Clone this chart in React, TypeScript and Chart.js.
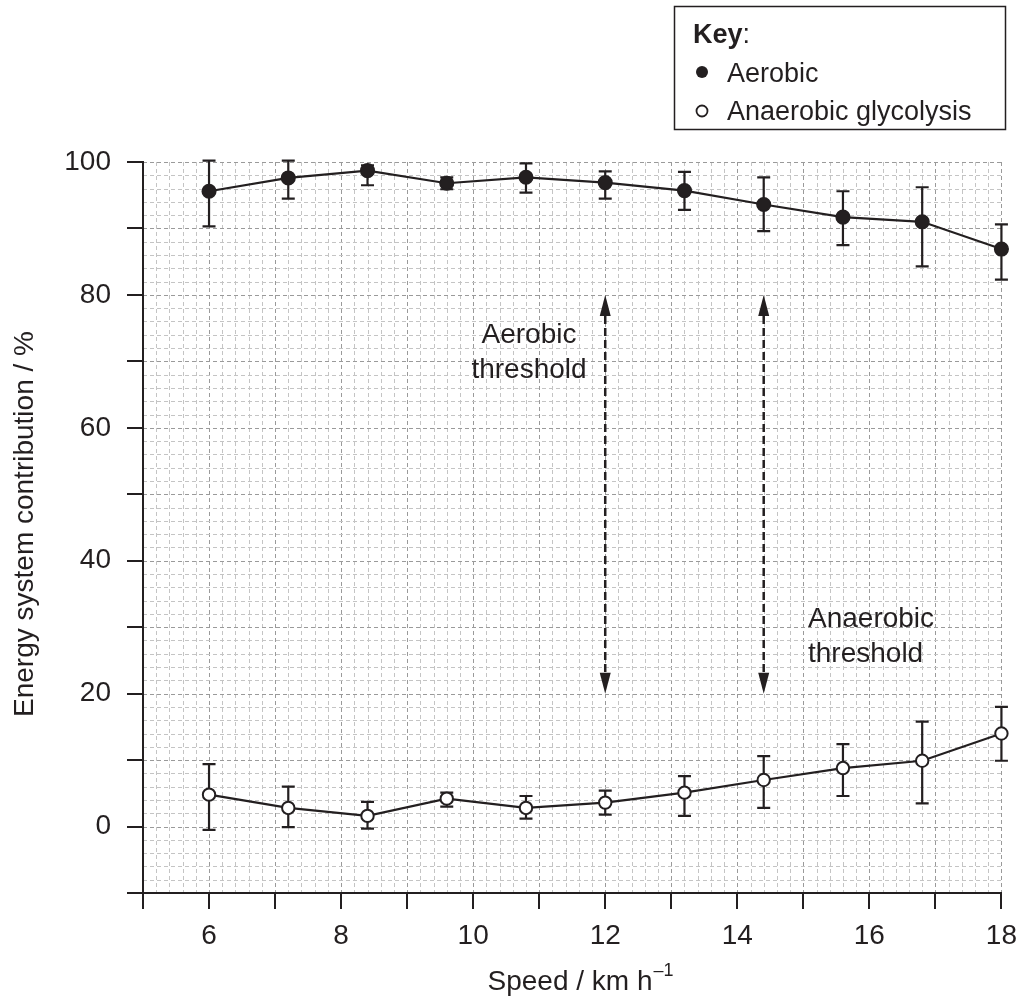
import { useEffect, useRef } from 'react';
import { Chart, registerables } from 'chart.js';

Chart.register(...registerables);

// ---------- data ----------
const speeds = [6, 7.2, 8.4, 9.6, 10.8, 12, 13.2, 14.4, 15.6, 16.8, 18];

const aerobic = [95.6, 97.6, 98.7, 96.8, 97.7, 96.9, 95.7, 93.6, 91.7, 91.0, 86.9];
const aerobicHigh = [100.2, 100.2, 99.5, 97.7, 99.8, 98.6, 98.5, 97.7, 95.6, 96.2, 90.6];
const aerobicLow = [90.3, 94.5, 96.5, 95.9, 95.4, 94.5, 92.8, 89.6, 87.5, 84.3, 82.3];

const anaerobic = [4.8, 2.8, 1.6, 4.2, 2.8, 3.6, 5.1, 7.0, 8.8, 9.9, 14.0];
const anaerobicHigh = [9.4, 6.0, 3.7, 5.1, 4.6, 5.4, 7.6, 10.6, 12.4, 15.8, 18.0];
const anaerobicLow = [-0.5, -0.1, -0.3, 3.0, 1.2, 1.8, 1.6, 2.8, 4.6, 3.5, 9.9];

const xTickLabels = [6, 8, 10, 12, 14, 16, 18];
const yTickLabels = [0, 20, 40, 60, 80, 100];

const thresholdSpeeds = [12, 14.4];
const arrowRange = [20, 80];

const seriesNames = ['Aerobic', 'Anaerobic glycolysis'];
const thresholdNames = [['Aerobic', 'threshold'], ['Anaerobic', 'threshold']];

const X_MIN = 5;
const X_MAX = 18;
const Y_MIN = -10;
const Y_MAX = 100;

// ---------- styles ----------
const FONT = "'Liberation Sans', Arial, Helvetica, sans-serif";
const INK = '#231f20';
const FS = 28;

const gridPlugin = {
  id: 'paperGrid',
  beforeDraw(chart: any) {
    const { ctx } = chart;
    const xs = chart.scales.x;
    const ys = chart.scales.y;
    const top = ys.getPixelForValue(Y_MAX);
    const bottom = ys.getPixelForValue(Y_MIN);
    const left = xs.getPixelForValue(X_MIN);
    const right = xs.getPixelForValue(X_MAX);
    ctx.save();
    ctx.lineWidth = 1;
    ctx.setLineDash([4, 3]);
    const nx = Math.round((X_MAX - X_MIN) / 0.2);
    for (let i = 1; i <= nx; i++) {
      const px = Math.round(xs.getPixelForValue(X_MIN + i * 0.2)) + 0.5;
      ctx.strokeStyle = i % 5 === 0 ? '#9a9a9a' : '#c4c4c4';
      ctx.beginPath();
      ctx.moveTo(px, top);
      ctx.lineTo(px, bottom);
      ctx.stroke();
    }
    const ny = Math.round((Y_MAX - Y_MIN) / 2);
    for (let j = 1; j <= ny; j++) {
      const v = Y_MIN + j * 2;
      const py = Math.round(ys.getPixelForValue(v)) + 0.5;
      ctx.strokeStyle = v % 10 === 0 ? '#9a9a9a' : '#c4c4c4';
      ctx.beginPath();
      ctx.moveTo(left, py);
      ctx.lineTo(right, py);
      ctx.stroke();
    }
    ctx.restore();
  },
};

const errorBarPlugin = {
  id: 'errorBars',
  beforeDatasetsDraw(chart: any) {
    const { ctx } = chart;
    const xs = chart.scales.x;
    const ys = chart.scales.y;
    const sets = [
      [aerobicHigh, aerobicLow],
      [anaerobicHigh, anaerobicLow],
    ];
    ctx.save();
    ctx.strokeStyle = INK;
    ctx.lineWidth = 2.2;
    ctx.setLineDash([]);
    sets.forEach(([hi, lo]) => {
      speeds.forEach((s, i) => {
        const px = xs.getPixelForValue(s);
        const pt = ys.getPixelForValue(hi[i]);
        const pb = ys.getPixelForValue(lo[i]);
        ctx.beginPath();
        ctx.moveTo(px, pt);
        ctx.lineTo(px, pb);
        ctx.moveTo(px - 6.5, pt);
        ctx.lineTo(px + 6.5, pt);
        ctx.moveTo(px - 6.5, pb);
        ctx.lineTo(px + 6.5, pb);
        ctx.stroke();
      });
    });
    ctx.restore();
  },
};

const annotationPlugin = {
  id: 'annotations',
  afterDraw(chart: any) {
    const { ctx } = chart;
    const xs = chart.scales.x;
    const ys = chart.scales.y;
    ctx.save();

    // threshold arrows
    ctx.strokeStyle = INK;
    ctx.fillStyle = INK;
    thresholdSpeeds.forEach((s) => {
      const px = xs.getPixelForValue(s);
      const pTop = ys.getPixelForValue(arrowRange[1]);
      const pBot = ys.getPixelForValue(arrowRange[0]);
      const headH = 21;
      const headW = 5.5;
      ctx.lineWidth = 2.5;
      ctx.setLineDash([8, 4]);
      ctx.beginPath();
      ctx.moveTo(px, pTop + headH);
      ctx.lineTo(px, pBot - headH);
      ctx.stroke();
      ctx.setLineDash([]);
      ctx.beginPath();
      ctx.moveTo(px, pTop);
      ctx.lineTo(px - headW, pTop + headH);
      ctx.lineTo(px + headW, pTop + headH);
      ctx.closePath();
      ctx.fill();
      ctx.beginPath();
      ctx.moveTo(px, pBot);
      ctx.lineTo(px - headW, pBot - headH);
      ctx.lineTo(px + headW, pBot - headH);
      ctx.closePath();
      ctx.fill();
    });

    // threshold labels
    ctx.font = `${FS}px ${FONT}`;
    ctx.textBaseline = 'alphabetic';
    ctx.fillStyle = INK;
    ctx.textAlign = 'center';
    thresholdNames[0].forEach((t, i) => ctx.fillText(t, 529, 343 + i * 35));
    ctx.textAlign = 'left';
    thresholdNames[1].forEach((t, i) => ctx.fillText(t, 808, 627 + i * 35));

    // x title
    const main = 'Speed / km h';
    const sup = '\u20131';
    ctx.font = `${FS}px ${FONT}`;
    const w1 = ctx.measureText(main).width;
    ctx.font = `${18}px ${FONT}`;
    const w2 = ctx.measureText(sup).width;
    const startX = 580 - (w1 + w2) / 2;
    ctx.font = `${FS}px ${FONT}`;
    ctx.textAlign = 'left';
    ctx.fillText(main, startX, 990);
    ctx.font = `${18}px ${FONT}`;
    ctx.fillText(sup, startX + w1 + 1, 976);

    // y title
    ctx.save();
    ctx.translate(33, 524);
    ctx.rotate(-Math.PI / 2);
    ctx.font = `${FS}px ${FONT}`;
    ctx.textAlign = 'center';
    ctx.fillText('Energy system contribution / %', 0, 0);
    ctx.restore();

    // legend box
    ctx.lineWidth = 1.5;
    ctx.strokeStyle = INK;
    ctx.strokeRect(674.5, 6.5, 331, 123);
    ctx.textAlign = 'left';
    ctx.font = `bold 27px ${FONT}`;
    ctx.fillText('Key', 693, 43);
    const kw = ctx.measureText('Key').width;
    ctx.font = `27px ${FONT}`;
    ctx.fillText(':', 693 + kw, 43);
    ctx.fillText(seriesNames[0], 727, 82);
    ctx.fillText(seriesNames[1], 727, 120);
    ctx.beginPath();
    ctx.arc(702, 72, 6, 0, Math.PI * 2);
    ctx.fill();
    ctx.beginPath();
    ctx.lineWidth = 1.8;
    ctx.arc(702, 111, 5.5, 0, Math.PI * 2);
    ctx.fillStyle = '#fff';
    ctx.fill();
    ctx.stroke();

    ctx.restore();
  },
};

export default function App() {
  const canvasRef = useRef<HTMLCanvasElement | null>(null);

  useEffect(() => {
    const canvas = canvasRef.current;
    if (!canvas) return;
    const tickFont = { family: FONT, size: FS };
    const chart = new Chart(canvas, {
      type: 'line',
      data: {
        datasets: [
          {
            label: seriesNames[0],
            data: speeds.map((s, i) => ({ x: s, y: aerobic[i] })),
            borderColor: INK,
            borderWidth: 2.2,
            pointRadius: 6.8,
            pointBackgroundColor: INK,
            pointBorderColor: INK,
            pointBorderWidth: 1.5,
            tension: 0,
            clip: false as any,
          },
          {
            label: seriesNames[1],
            data: speeds.map((s, i) => ({ x: s, y: anaerobic[i] })),
            borderColor: INK,
            borderWidth: 2.2,
            pointRadius: 6.2,
            pointBackgroundColor: '#ffffff',
            pointBorderColor: INK,
            pointBorderWidth: 2,
            tension: 0,
            clip: false as any,
          },
        ],
      },
      options: {
        responsive: false,
        animation: false,
        devicePixelRatio: 1,
        layout: { padding: { top: 162, right: 22, left: 0, bottom: 0 } },
        plugins: {
          legend: { display: false },
          tooltip: { enabled: false },
        },
        scales: {
          x: {
            type: 'linear',
            min: X_MIN,
            max: X_MAX,
            afterFit: (s: any) => {
              s.height = 107;
            },
            ticks: {
              stepSize: 1,
              autoSkip: false,
              maxRotation: 0,
              color: INK,
              font: tickFont,
              padding: 10,
              callback: (v: any) => (xTickLabels.includes(Number(v)) ? String(v) : ''),
            },
            grid: {
              display: true,
              drawOnChartArea: false,
              drawTicks: true,
              tickLength: 16,
              color: INK,
              lineWidth: 2,
            },
            border: { display: true, color: INK, width: 2 },
          },
          y: {
            type: 'linear',
            min: Y_MIN,
            max: Y_MAX,
            afterFit: (s: any) => {
              s.width = 143;
            },
            ticks: {
              stepSize: 10,
              autoSkip: false,
              color: INK,
              font: tickFont,
              padding: 16,
              callback: (v: any) => (yTickLabels.includes(Number(v)) ? String(v) : ''),
            },
            grid: {
              display: true,
              drawOnChartArea: false,
              drawTicks: true,
              tickLength: 16,
              color: INK,
              lineWidth: 2,
            },
            border: { display: true, color: INK, width: 2 },
          },
        },
      },
      plugins: [gridPlugin, errorBarPlugin, annotationPlugin],
    });
    return () => chart.destroy();
  }, []);

  return (
    <div style={{ position: 'absolute', left: 0, top: 0, width: 1027, height: 1000, background: '#fff' }}>
      <canvas ref={canvasRef} width={1027} height={1000} style={{ display: 'block' }} />
    </div>
  );
}
